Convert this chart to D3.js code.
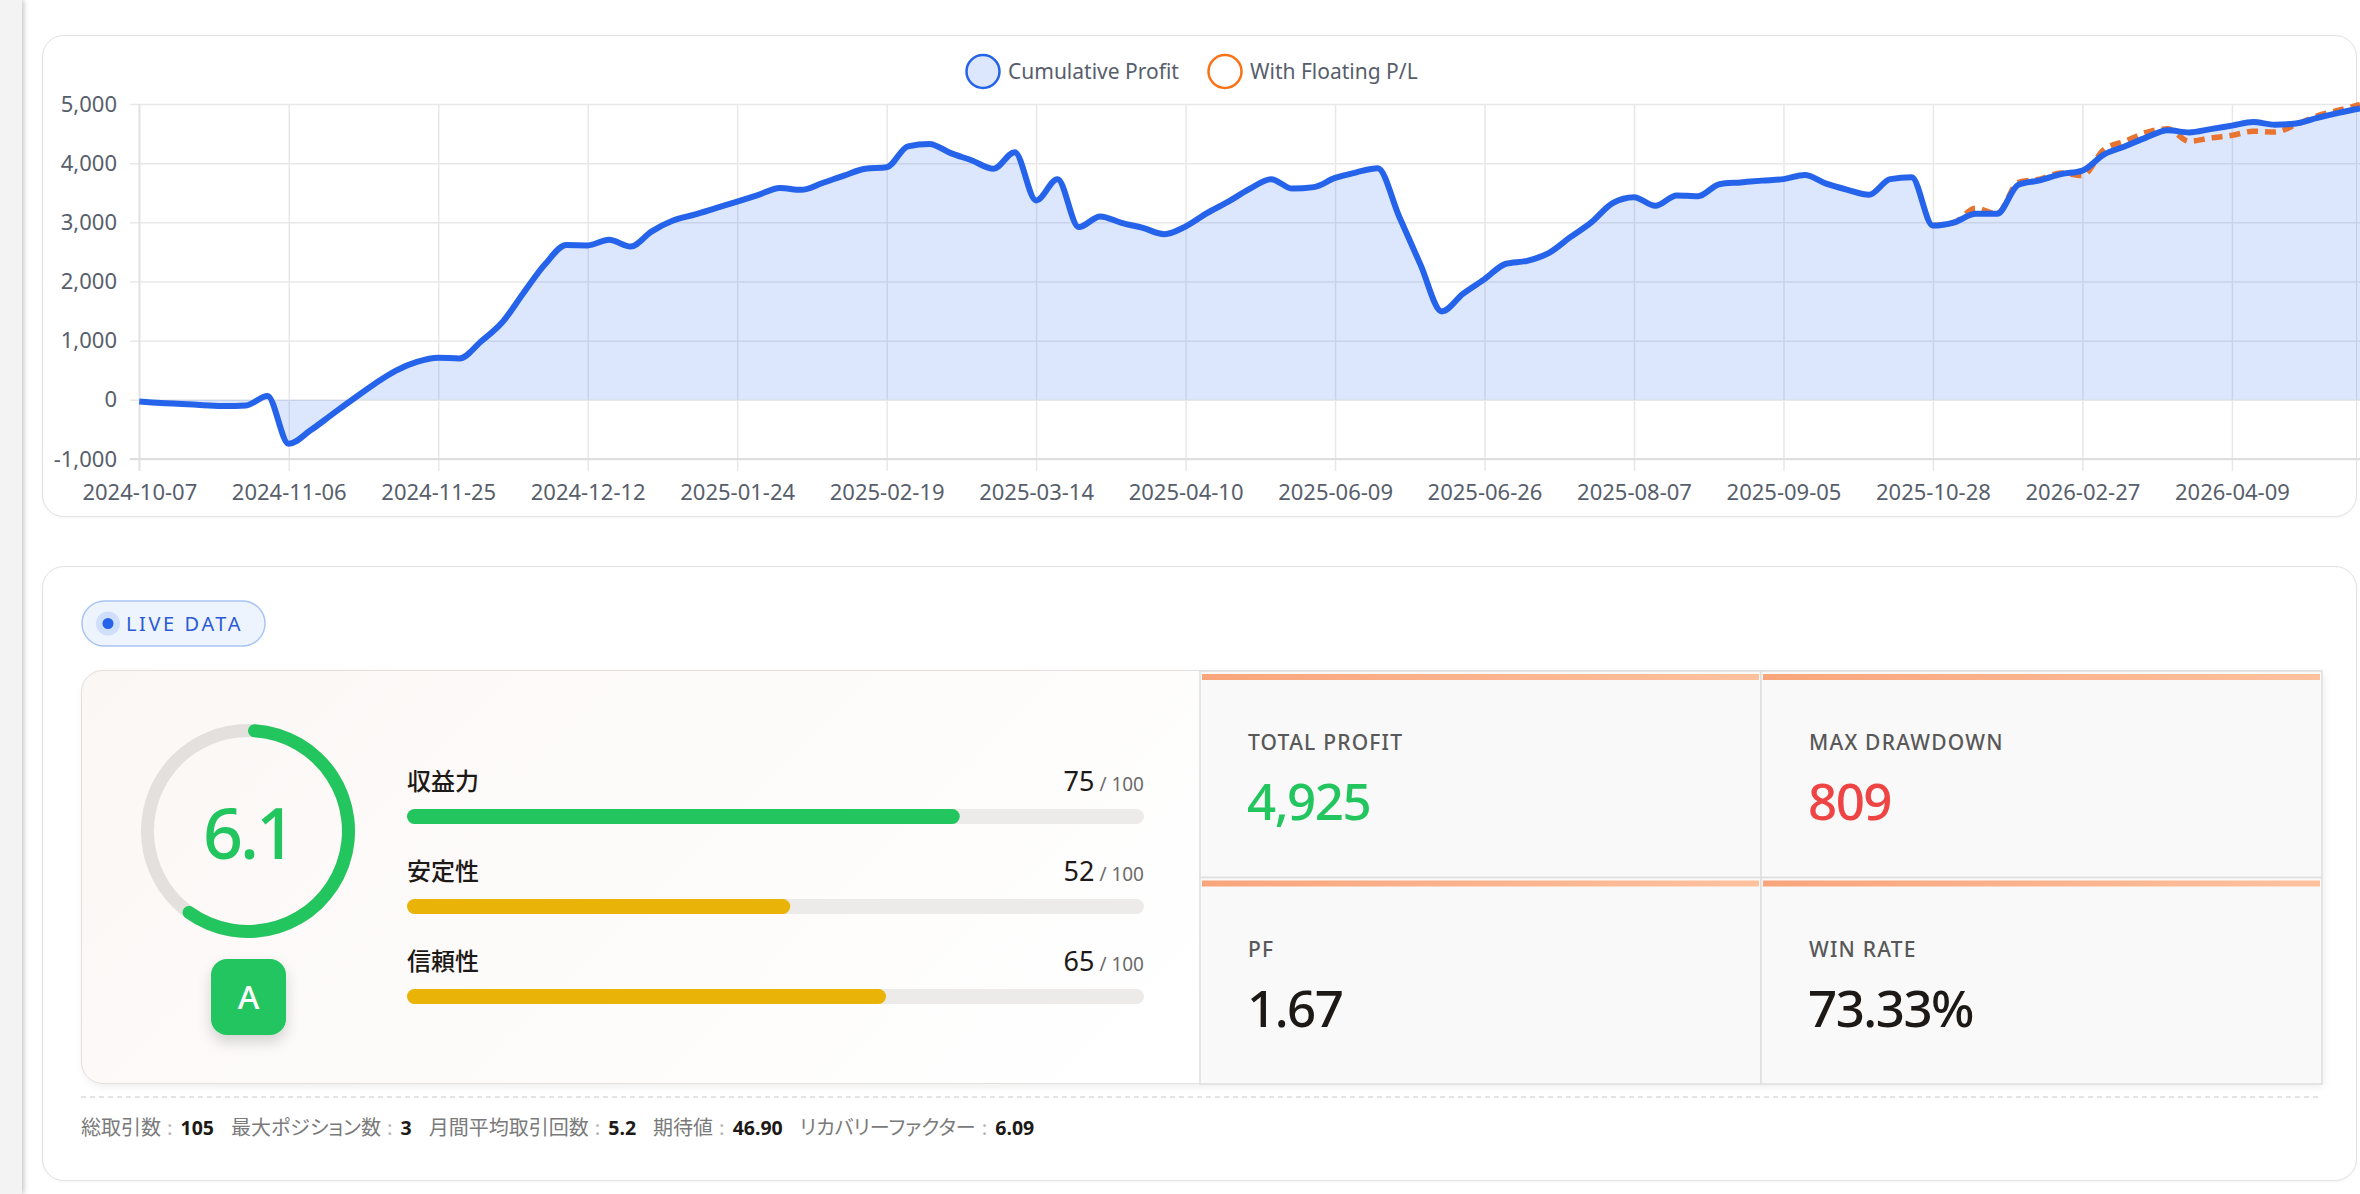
<!DOCTYPE html>
<html>
<head>
<meta charset="utf-8">
<script src="https://cdn.jsdelivr.net/npm/d3@7"></script>
<style>
html, body { margin: 0; padding: 0; background: #fff; overflow: hidden; width: 2360px; height: 1194px;
  font-family: "Noto Sans", "Noto Sans CJK JP", sans-serif; }
.side { position: absolute; left: 0; top: 0; width: 22px; height: 1194px; background: #f3f3f3;
  box-shadow: 2px 0 5px rgba(0,0,0,.22); }
.card { position: absolute; left: 42px; width: 2315px; background: #fff; border: 1.5px solid #e2e2e2;
  border-radius: 22px; box-sizing: border-box; box-shadow: 0 1px 3px rgba(0,0,0,.05); }
#chartCard { top: 35px; height: 482px; }
#statsCard { top: 566px; height: 615px; }
#panel { position: absolute; left: 81px; top: 670px; width: 2241px; height: 414px; box-sizing: border-box;
  border: 1.5px solid #e2dfdc; border-radius: 22px 4px 4px 22px;
  background: linear-gradient(135deg, #fbf7f5 0%, #ffffff 55%); box-shadow: 2px 3px 8px rgba(0,0,0,.07); }
#main { position: absolute; left: 0; top: 0; }
.tick line { stroke: #e8e8e8; stroke-width: 1.5; }
.tick text { fill: #575e6b; font-size: 22px; font-family: "Noto Sans", sans-serif; }
</style>
</head>
<body>
<div class="side"></div>
<div class="card" id="chartCard"></div>
<div class="card" id="statsCard"></div>
<div id="panel"></div>
<svg id="main"></svg>
<script>
// cumulative profit per trade (105 trades)
var cumulative = [
  -30, -55, -70, -90, -105, -95, 65, -744, -520, -255,
  10, 265, 490, 640, 710, 700, 985, 1310, 1810, 2290,
  2615, 2610, 2706, 2590, 2847, 3030, 3130, 3240, 3350, 3465,
  3580, 3550, 3665, 3790, 3905, 3930, 4285, 4325, 4170, 4045,
  3905, 4185, 3370, 3730, 2920, 3100, 2990, 2905, 2800, 2930,
  3155, 3350, 3565, 3730, 3570, 3595, 3750, 3845, 3915, 3100,
  2285, 1495, 1795, 2040, 2300, 2350, 2480, 2745, 3000, 3325,
  3425, 3280, 3455, 3440, 3645, 3675, 3705, 3730, 3800, 3655,
  3550, 3465, 3730, 3760, 2945, 3000, 3145, 3145, 3635, 3710,
  3815, 3875, 4145, 4285, 4435, 4555, 4520, 4575, 4635, 4695,
  4650, 4670, 4765, 4850, 4925
];

// with floating P/L (only known for the latest trades)
var floatingStart = 84;
var floating = [
  2945, 3000, 3240, 3145, 3675, 3730, 3835, 3790, 4230, 4370,
  4520, 4580, 4370, 4425, 4470, 4540, 4525, 4650, 4800, 4895,
  4990
];

var tickLabels = ["2024-10-07", "2024-11-06", "2024-11-25", "2024-12-12", "2025-01-24",
  "2025-02-19", "2025-03-14", "2025-04-10", "2025-06-09", "2025-06-26",
  "2025-08-07", "2025-09-05", "2025-10-28", "2026-02-27", "2026-04-09"];
var labelEvery = 7;
var yTicks = [-1000, 0, 1000, 2000, 3000, 4000, 5000];
var seriesNames = ["Cumulative Profit", "With Floating P/L"];

var score = 6.1;
var grade = "A";
var scoreNames = ["収益力", "安定性", "信頼性"];
var scoreValues = [75, 52, 65];

var metricLabels = ["TOTAL PROFIT", "MAX DRAWDOWN", "PF", "WIN RATE"];
var metricValues = ["4,925", "809", "1.67", "73.33%"];

var footerLabels = ["総取引数", "最大ポジション数", "月間平均取引回数", "期待値", "リカバリーファクター"];
var footerValues = ["105", "3", "5.2", "46.90", "6.09"];

var W = 2360, H = 1194;
var svg = d3.select("#main").attr("width", W).attr("height", H);

var defs = svg.append("defs");
var sh = defs.append("filter").attr("id", "badgeShadow").attr("x", "-50%").attr("y", "-50%").attr("width", "200%").attr("height", "200%");
sh.append("feDropShadow").attr("dx", 0).attr("dy", 7).attr("stdDeviation", 7).attr("flood-color", "#000").attr("flood-opacity", 0.16);
var grad = defs.append("linearGradient").attr("id", "topBar");
grad.append("stop").attr("offset", "0%").attr("stop-color", "#f9a57c");
grad.append("stop").attr("offset", "100%").attr("stop-color", "#fdc19e");

// ---------- line chart ----------
var x = d3.scaleLinear().domain([0, cumulative.length - 1]).range([139.3, 2360]);
var y = d3.scaleLinear().domain([-1000, 5000]).range([459, 104]);

var chart = svg.append("g");

chart.append("g")
    .attr("transform", "translate(130,0)")
    .call(d3.axisLeft(y).tickValues(yTicks).tickSizeInner(-(W - 130)).tickSizeOuter(0).tickPadding(13)
        .tickFormat(function(d) { return d3.format(",")(d).replace("\u2212", "-"); }))
    .call(function(g) { g.select(".domain").remove(); g.attr("font-family", null).attr("font-size", null); });

chart.append("g")
    .attr("transform", "translate(0,104)")
    .call(d3.axisBottom(x).tickValues(tickLabels.map(function(d, i) { return i * labelEvery; }))
        .tickSizeInner(367).tickSizeOuter(0).tickPadding(13)
        .tickFormat(function(d, i) { return tickLabels[i]; }))
    .call(function(g) { g.select(".domain").remove(); g.attr("font-family", null).attr("font-size", null); });

// axis borders
chart.append("line").attr("x1", x(0)).attr("x2", x(0)).attr("y1", y(5000)).attr("y2", y(-1000) + 12)
    .attr("stroke", "#e0e0e0").attr("stroke-width", 1.5);
chart.append("line").attr("x1", 130).attr("x2", W).attr("y1", y(-1000)).attr("y2", y(-1000))
    .attr("stroke", "#dedede").attr("stroke-width", 2);

var pts = cumulative.map(function(v, i) { return [i, v]; });
var fpts = floating.map(function(v, i) { return [i + floatingStart, v]; });

chart.append("path")
    .datum(pts)
    .attr("fill", "rgba(37,99,235,0.16)")
    .attr("d", d3.area().curve(d3.curveMonotoneX)
        .x(function(d) { return x(d[0]); })
        .y0(y(0))
        .y1(function(d) { return y(d[1]); }));

var line = d3.line().curve(d3.curveMonotoneX)
    .x(function(d) { return x(d[0]); })
    .y(function(d) { return y(d[1]); });

chart.append("path").datum(fpts)
    .attr("fill", "none").attr("stroke", "#e8742f").attr("stroke-width", 5.5)
    .attr("stroke-dasharray", "11,7").attr("d", line);

chart.append("path").datum(pts)
    .attr("fill", "none").attr("stroke", "#2563eb").attr("stroke-width", 6)
    .attr("stroke-linejoin", "round").attr("d", line);

// legend
var legend = svg.append("g").attr("transform", "translate(983,71.5)");
var legX = [0, 242];
var legFill = ["rgba(37,99,235,0.16)", "#fff"];
var legStroke = ["#2563eb", "#f97316"];
seriesNames.forEach(function(name, i) {
  legend.append("circle").attr("cx", legX[i]).attr("cy", 0).attr("r", 16.5)
      .attr("fill", legFill[i]).attr("stroke", legStroke[i]).attr("stroke-width", 2.5);
  legend.append("text").attr("x", legX[i] + 25).attr("y", 7.5)
      .attr("font-size", 21).attr("fill", "#575e6b").text(name);
});

// ---------- LIVE DATA pill ----------
svg.append("rect").attr("x", 82).attr("y", 601).attr("width", 183).attr("height", 45).attr("rx", 22.5)
    .attr("fill", "#eef4fe").attr("stroke", "#a9c4f4").attr("stroke-width", 1.5);
svg.append("circle").attr("cx", 108).attr("cy", 623.5).attr("r", 12).attr("fill", "#cfdefb");
svg.append("circle").attr("cx", 108).attr("cy", 623.5).attr("r", 5.5).attr("fill", "#2563eb");
svg.append("text").attr("x", 126).attr("y", 631).attr("font-size", 20).attr("letter-spacing", 2.6)
    .attr("fill", "#2a5bd7").text("LIVE DATA");

// ---------- score gauge ----------
var ang = d3.scaleLinear().domain([0, 10]).range([0, 2 * Math.PI]);
var gauge = svg.append("g").attr("transform", "translate(248,831)");
gauge.append("path").attr("fill", "#e4e0dd")
    .attr("d", d3.arc()({innerRadius: 94, outerRadius: 107, startAngle: 0, endAngle: 2 * Math.PI}));
gauge.append("path").attr("fill", "#22c55e")
    .attr("d", d3.arc().cornerRadius(6.5)({innerRadius: 94, outerRadius: 107, startAngle: 0, endAngle: ang(score)}));
gauge.append("text").attr("x", 0).attr("y", 28).attr("text-anchor", "middle")
    .attr("font-size", 70).attr("font-weight", 500).attr("letter-spacing", -3)
    .attr("fill", "#22c55e").text(score.toFixed(1));

svg.append("rect").attr("x", 211).attr("y", 959).attr("width", 75).attr("height", 76).attr("rx", 16)
    .attr("fill", "#22c55e").attr("filter", "url(#badgeShadow)");
svg.append("text").attr("x", 248.5).attr("y", 1009).attr("text-anchor", "middle")
    .attr("font-size", 33).attr("font-weight", 500).attr("fill", "#fff").text(grade);

// ---------- score bars ----------
var bx = d3.scaleLinear().domain([0, 100]).range([407, 1144]);
var rowY = d3.scalePoint().domain(scoreNames).range([781, 961]);
var barColor = function(v) { return v >= 70 ? "#22c55e" : "#eab308"; };

var rows = svg.selectAll(".srow").data(scoreNames).enter().append("g").attr("class", "srow");
rows.append("text").attr("x", bx(0)).attr("y", function(d) { return rowY(d) + 9; })
    .attr("font-family", "'Noto Sans CJK JP'").attr("font-size", 24).attr("font-weight", 500)
    .attr("fill", "#1c1917").text(function(d) { return d; });
var vt = rows.append("text").attr("x", bx(100)).attr("y", function(d) { return rowY(d) + 10; })
    .attr("text-anchor", "end");
vt.append("tspan").attr("font-size", 27).attr("fill", "#1c1917")
    .text(function(d, i) { return scoreValues[i]; });
vt.append("tspan").attr("font-size", 19).attr("fill", "#6b6b6b").text(" / 100");
rows.append("rect").attr("x", bx(0)).attr("y", function(d) { return rowY(d) + 28; })
    .attr("width", bx(100) - bx(0)).attr("height", 15).attr("rx", 7.5).attr("fill", "#ecebea");
rows.append("rect").attr("x", bx(0)).attr("y", function(d) { return rowY(d) + 28; })
    .attr("width", function(d, i) { return bx(scoreValues[i]) - bx(0); })
    .attr("height", 15).attr("rx", 7.5).attr("fill", function(d, i) { return barColor(scoreValues[i]); });

// ---------- metric cells ----------
var colX = d3.scaleBand().domain([0, 1]).range([1200, 2322]);
var rowTop = d3.scaleBand().domain([0, 1]).range([671, 1084]);
var metricColor = ["#22c55e", "#ef4444", "#1c1917", "#1c1917"];

var cells = svg.selectAll(".cell").data(metricLabels).enter().append("g").attr("class", "cell")
    .attr("transform", function(d, i) { return "translate(" + colX(i % 2) + "," + rowTop(Math.floor(i / 2)) + ")"; });
cells.append("rect").attr("width", colX.bandwidth()).attr("height", rowTop.bandwidth())
    .attr("fill", "#f9f9f9").attr("stroke", "#dedede").attr("stroke-width", 1.5);
cells.append("rect").attr("x", 2).attr("y", 3).attr("width", colX.bandwidth() - 4).attr("height", 6)
    .attr("fill", "url(#topBar)");
cells.append("text").attr("x", 48).attr("y", 79).attr("font-size", 21).attr("font-weight", 500)
    .attr("letter-spacing", 1.2)
    .attr("fill", "#585858").text(function(d) { return d; });
cells.append("text").attr("x", 47).attr("y", 149).attr("font-size", 51).attr("font-weight", 500)
    .attr("letter-spacing", -1.5)
    .attr("fill", function(d, i) { return metricColor[i]; })
    .text(function(d, i) { return metricValues[i]; });

// ---------- footer ----------
svg.append("line").attr("x1", 81).attr("x2", 2322).attr("y1", 1097).attr("y2", 1097)
    .attr("stroke", "#dcdcdc").attr("stroke-width", 1.5).attr("stroke-dasharray", "5,4");

var foot = svg.append("text").attr("x", 81).attr("y", 1135)
    .attr("font-family", "'Noto Sans CJK JP'").style("font-feature-settings", "'palt'");
footerLabels.forEach(function(lab, i) {
  foot.append("tspan").attr("dx", i === 0 ? 0 : 17).attr("font-size", 20).attr("fill", "#7a7a7a").text(lab);
  foot.append("tspan").attr("dx", 6).attr("font-size", 20).attr("fill", "#b5b5b5").text(":");
  foot.append("tspan").attr("dx", 8).attr("font-size", 19.5).attr("font-weight", 700)
      .attr("font-family", "'Noto Sans'").attr("fill", "#1c1917").text(footerValues[i]);
});
</script>
</body>
</html>
